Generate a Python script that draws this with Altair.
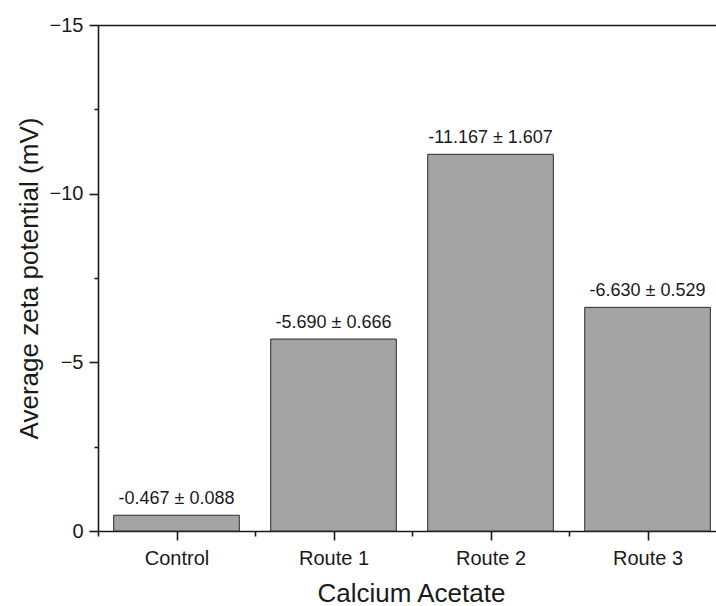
import json
import altair as alt
import pandas as pd

categories = ["Control", "Route 1", "Route 2", "Route 3"]
positions = [1, 2, 3, 4]
means = [-0.467, -5.690, -11.167, -6.630]
sds = [0.088, 0.666, 1.607, 0.529]
y_major = [-15, -10, -5, 0]
y_minor = [-12.5, -7.5, -2.5]
x_minor = [0.5, 1.5, 2.5, 3.5]

df = pd.DataFrame({"cat": categories, "pos": positions, "mean": means, "sd": sds})
df["label"] = [f"{m:.3f} \u00b1 {s:.3f}" for m, s in zip(means, sds)]

FONT = "Liberation Sans"
INK = "#1a1a1a"
W, H = 618, 506

xscale = alt.Scale(domain=[0.5, 4.436], nice=False, zero=False)
yscale = alt.Scale(domain=[-15, 0], reverse=True, nice=False, zero=False)
label_expr = "%s[datum.value - 1]" % json.dumps(categories)

base = alt.Chart(df)

bars = base.transform_calculate(
    lo="datum.pos - 0.4", hi="datum.pos + 0.4"
).mark_bar(fill="#a4a4a4", stroke="#2b2b2b", strokeWidth=1).encode(
    x=alt.X("lo:Q", scale=xscale, axis=alt.Axis(
        orient="bottom", values=positions, labelExpr=label_expr,
        tickSize=9, labelPadding=8, title="Calcium Acetate",
        titleX=313, titleY=70, titleBaseline="alphabetic", titleAlign="center")),
    x2="hi:Q",
    y=alt.Y("mean:Q", scale=yscale, axis=alt.Axis(
        orient="left", values=y_major, tickSize=9, labelPadding=6,
        title="Average zeta potential (mV)", titleX=-56)),
    y2=alt.datum(0),
)

text = base.mark_text(font=FONT, fontSize=18, baseline="alphabetic", dy=-11, color=INK).encode(
    x=alt.X("pos:Q", scale=xscale, axis=alt.Axis(
        orient="bottom", values=x_minor, tickSize=5, labels=False, domain=False, title=None)),
    y=alt.Y("mean:Q", scale=yscale, axis=alt.Axis(
        orient="left", values=y_minor, tickSize=4, labels=False, domain=False, title=None)),
    text="label:N",
)

top = base.mark_point(opacity=0).encode(
    x=alt.X("pos:Q", scale=xscale, axis=alt.Axis(
        orient="top", labels=False, ticks=False, domain=True, title=None)),
)

chart = alt.layer(bars, text, top).resolve_axis(
    x="independent", y="independent"
).properties(
    width=W, height=H,
    autosize=alt.AutoSizeParams(type="none"),
    padding={"left": 98, "top": 25, "right": 0, "bottom": 75},
).configure_view(stroke=None).configure_axis(
    grid=False,
    domainColor=INK, domainWidth=1.6,
    tickColor=INK, tickWidth=1.6,
    labelFont=FONT, labelFontSize=20, labelColor=INK,
    titleFont=FONT, titleFontSize=26, titleFontWeight="normal", titleColor=INK,
)

chart.save("out.html", embed_options={"renderer": "svg", "actions": False})
